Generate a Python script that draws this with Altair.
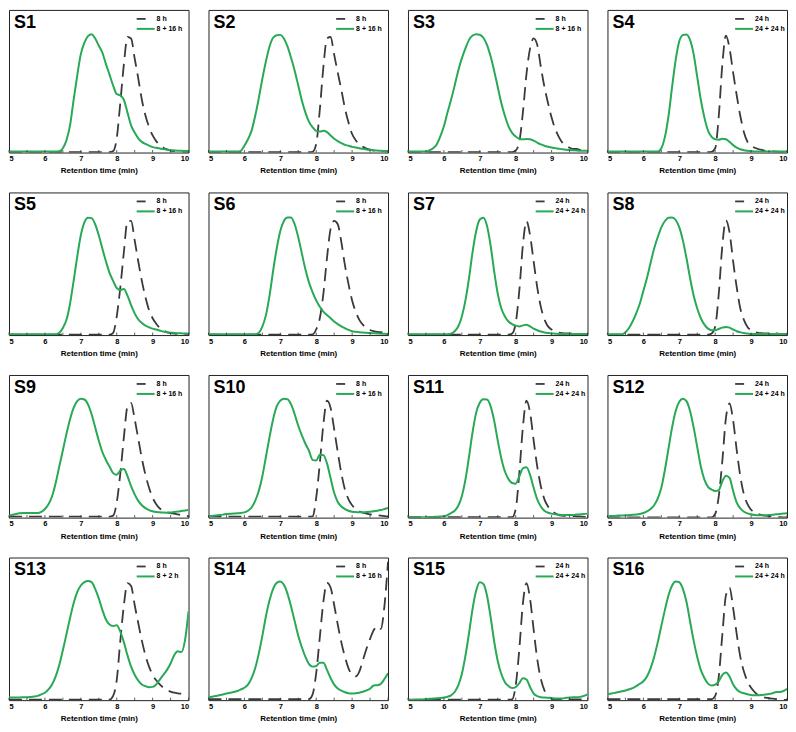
import altair as alt
import pandas as pd

# Retention time grid (min), 5.0 ... 10.0 in 0.1 steps
T = [round(5 + 0.1 * i, 1) for i in range(51)]
TICKS = [5, 5.5, 6, 6.5, 7, 7.5, 8, 8.5, 9, 9.5, 10]
XLABELS = [5, 6, 7, 8, 9, 10]

NAMES = ["S1", "S2", "S3", "S4", "S5", "S6", "S7", "S8",
         "S9", "S10", "S11", "S12", "S13", "S14", "S15", "S16"]
LEG_DASH = ["8 h", "8 h", "8 h", "24 h", "8 h", "8 h", "24 h", "24 h",
            "8 h", "8 h", "24 h", "24 h", "8 h", "8 h", "24 h", "24 h"]
LEG_GREEN = ["8 + 16 h", "8 + 16 h", "8 + 16 h", "24 + 24 h", "8 + 16 h", "8 + 16 h", "24 + 24 h", "24 + 24 h",
             "8 + 16 h", "8 + 16 h", "24 + 24 h", "24 + 24 h", "8 + 2 h", "8 + 16 h", "24 + 24 h", "24 + 24 h"]

# normalised detector signal (fraction of panel height)
S1_D = [.003, .003, .003, .003, .003, .003, .003, .003, .003, .003,
        .003, .003, .003, .003, .003, .003, .003, .003, .003, .003,
        .003, .003, .003, .003, .003, .003, .003, .003, .003, .010,
        .10, .35, .62, .81, .80, .66, .52, .37, .26, .18,
        .12, .08, .05, .034, .022, .014, .010, .008, .006, .005, .004]
S1_G = [.007, .007, .007, .007, .007, .007, .007, .007, .007, .007,
        .007, .007, .007, .007, .010, .030, .086, .19, .37, .54,
        .69, .77, .816, .83, .80, .75, .70, .62, .546, .47,
        .41, .40, .37, .28, .19, .14, .10, .075, .06, .048,
        .038, .033, .028, .024, .020, .017, .015, .013, .012, .011, .010]

S2_D = [.003, .003, .003, .003, .003, .003, .003, .003, .003, .003,
        .003, .003, .003, .003, .003, .003, .003, .003, .003, .003,
        .003, .003, .003, .003, .003, .003, .003, .003, .003, .005,
        .06, .30, .60, .80, .81, .687, .56, .44, .31, .21,
        .13, .086, .057, .040, .028, .020, .014, .012, .010, .008, .006]
S2_G = [.007, .007, .007, .007, .007, .007, .007, .007, .007, .012,
        .048, .093, .154, .256, .38, .517, .64, .744, .805, .823,
        .825, .80, .744, .664, .574, .47, .365, .28, .215, .177,
        .152, .147, .152, .143, .12, .097, .08, .066, .054, .048,
        .040, .035, .030, .026, .022, .019, .016, .014, .012, .011, .010]

S3_D = [.003, .003, .003, .003, .003, .003, .003, .003, .003, .003,
        .003, .003, .003, .003, .003, .003, .003, .003, .003, .003,
        .003, .003, .003, .003, .003, .003, .003, .003, .003, .003,
        .014, .075, .28, .55, .73, .80, .755, .60, .46, .347,
        .245, .166, .11, .07, .048, .034, .025, .025, .018, .014, .014]
S3_G = [.007, .007, .007, .007, .007, .007, .016, .030, .057, .113,
        .184, .28, .37, .47, .574, .66, .73, .79, .82, .83,
        .826, .805, .755, .675, .574, .46, .347, .256, .184, .138,
        .113, .097, .093, .095, .093, .084, .07, .057, .048, .041,
        .035, .031, .027, .023, .020, .018, .016, .014, .013, .012, .012]

S4_D = [.003, .003, .003, .003, .003, .003, .003, .003, .003, .003,
        .003, .003, .003, .003, .003, .003, .003, .003, .003, .003,
        .003, .003, .003, .003, .003, .003, .003, .003, .003, .005,
        .03, .256, .62, .82, .73, .56, .40, .256, .143, .075,
        .048, .034, .025, .018, .012, .010, .008, .006, .005, .005, .005]
S4_G = [.007, .007, .007, .007, .007, .007, .007, .007, .007, .007,
        .007, .007, .007, .007, .007, .030, .11, .256, .46, .65,
        .78, .823, .828, .79, .69, .53, .37, .245, .154, .11,
        .093, .09, .097, .093, .075, .052, .034, .023, .016, .012,
        .009, .008, .008, .008, .008, .008, .008, .008, .008, .008, .008]

S5_D = [.003, .003, .003, .003, .003, .003, .003, .003, .003, .003,
        .003, .003, .003, .003, .003, .003, .003, .003, .003, .003,
        .003, .003, .003, .003, .003, .003, .003, .003, .003, .016,
        .13, .334, .584, .80, .80, .664, .516, .38, .266, .175,
        .118, .08, .05, .034, .020, .014, .010, .008, .008, .008, .008]
S5_G = [.005, .005, .005, .005, .005, .005, .005, .005, .005, .005,
        .005, .005, .005, .005, .016, .05, .107, .22, .38, .55,
        .70, .79, .823, .82, .777, .70, .607, .516, .436, .38,
        .33, .316, .323, .277, .21, .152, .11, .084, .066, .055,
        .045, .039, .032, .025, .020, .017, .015, .013, .012, .011, .010]

S6_D = [.003, .003, .003, .003, .003, .003, .003, .003, .003, .003,
        .003, .003, .003, .003, .003, .003, .003, .003, .003, .003,
        .003, .003, .003, .003, .003, .003, .003, .003, .003, .005,
        .04, .118, .29, .54, .743, .80, .777, .652, .49, .357,
        .243, .164, .107, .073, .05, .036, .027, .022, .020, .016, .014]
S6_G = [.005, .005, .005, .005, .005, .005, .005, .005, .005, .005,
        .005, .005, .005, .005, .016, .06, .14, .277, .45, .607,
        .73, .80, .825, .825, .777, .686, .573, .46, .368, .30,
        .243, .198, .164, .14, .118, .095, .077, .061, .048, .036,
        .027, .023, .020, .018, .016, .014, .013, .011, .010, .009, .008]

S7_D = [.003, .003, .003, .003, .003, .003, .003, .003, .003, .003,
        .003, .003, .003, .003, .003, .003, .003, .003, .003, .003,
        .003, .003, .003, .003, .003, .003, .003, .003, .003, .011,
        .084, .31, .63, .80, .70, .516, .334, .198, .11, .061,
        .039, .027, .018, .014, .012, .012, .012, .010, .008, .008, .008]
S7_G = [.005, .005, .005, .005, .005, .005, .005, .005, .005, .005,
        .005, .006, .010, .027, .06, .13, .243, .40, .584, .73,
        .81, .823, .766, .63, .448, .29, .186, .13, .095, .077,
        .066, .061, .068, .073, .061, .045, .034, .025, .018, .014,
        .011, .010, .008, .008, .008, .008, .008, .008, .008, .008, .008]

S8_D = [.003, .003, .003, .003, .003, .003, .003, .003, .003, .003,
        .003, .003, .003, .003, .003, .003, .003, .003, .003, .003,
        .003, .003, .003, .003, .003, .003, .003, .003, .003, .011,
        .06, .29, .63, .805, .72, .516, .334, .186, .107, .057,
        .034, .023, .016, .013, .011, .012, .012, .012, .008, .008, .008]
S8_G = [.005, .005, .005, .005, .005, .02, .05, .095, .152, .22,
        .31, .40, .505, .607, .686, .755, .80, .823, .825, .807,
        .755, .664, .54, .40, .277, .186, .118, .073, .045, .034,
        .034, .043, .052, .057, .052, .039, .027, .020, .014, .011,
        .008, .008, .008, .008, .008, .008, .008, .008, .008, .008, .008]

S9_D = [.007, .007, .007, .007, .007, .007, .007, .007, .007, .007,
        .007, .007, .007, .007, .007, .007, .007, .007, .007, .007,
        .007, .007, .007, .007, .007, .007, .007, .007, .007, .014,
        .105, .31, .564, .78, .805, .69, .553, .415, .30, .21,
        .14, .094, .064, .046, .037, .032, .028, .023, .018, .014, .009]
S9_G = [.014, .020, .026, .030, .032, .032, .032, .032, .032, .040,
        .06, .094, .15, .243, .358, .472, .587, .69, .77, .817,
        .833, .828, .794, .725, .633, .54, .46, .404, .358, .312,
        .30, .33, .34, .29, .22, .163, .117, .087, .067, .053,
        .044, .039, .037, .035, .034, .035, .039, .042, .046, .050, .053]

S10_D = [.007, .007, .007, .007, .007, .007, .007, .007, .007, .007,
         .007, .007, .007, .007, .007, .007, .007, .007, .007, .007,
         .007, .007, .007, .007, .007, .007, .007, .007, .007, .009,
         .14, .38, .656, .82, .77, .62, .46, .31, .197, .128,
         .087, .06, .044, .034, .028, .023, .018, .016, .014, .011, .007]
S10_G = [.009, .012, .015, .018, .021, .025, .027, .028, .030, .033,
         .037, .048, .071, .117, .186, .29, .427, .564, .69, .78,
         .82, .833, .83, .794, .725, .644, .576, .518, .468, .405,
         .40, .44, .438, .38, .277, .174, .11, .078, .06, .048,
         .041, .039, .037, .037, .039, .041, .044, .048, .053, .060, .067]

S11_D = [.003, .003, .003, .003, .003, .003, .003, .003, .003, .003,
         .003, .003, .003, .003, .003, .003, .003, .003, .003, .003,
         .003, .003, .003, .003, .003, .003, .003, .003, .003, .003,
         .06, .31, .633, .82, .736, .54, .358, .22, .128, .078,
         .048, .030, .018, .014, .012, .011, .011, .009, .007, .005, .005]
S11_G = [.002, .002, .002, .002, .002, .003, .004, .005, .006, .007,
         .009, .018, .032, .048, .083, .15, .266, .427, .60, .736,
         .805, .83, .828, .782, .68, .54, .415, .323, .27, .243,
         .238, .289, .346, .353, .30, .209, .128, .078, .048, .034,
         .028, .023, .020, .018, .018, .018, .018, .021, .023, .025, .028]

S12_D = [.002, .002, .002, .002, .002, .002, .002, .002, .002, .002,
         .002, .002, .002, .002, .002, .002, .002, .002, .002, .002,
         .002, .002, .002, .002, .002, .002, .002, .002, .002, .002,
         .025, .15, .40, .70, .80, .68, .472, .29, .163, .094,
         .055, .037, .025, .018, .014, .011, .009, .006, .003, .002, .002]
S12_G = [.009, .011, .012, .014, .015, .016, .018, .020, .022, .025,
         .032, .044, .06, .087, .133, .209, .335, .484, .633, .748,
         .812, .833, .817, .748, .633, .495, .358, .266, .216, .197,
         .186, .193, .255, .294, .278, .186, .105, .064, .041, .030,
         .023, .018, .017, .016, .017, .018, .020, .023, .025, .028, .030]

S13_D = [.004, .004, .004, .004, .004, .004, .004, .004, .004, .004,
         .004, .004, .004, .004, .004, .004, .004, .004, .004, .004,
         .004, .004, .004, .004, .004, .004, .004, .004, .004, .03,
         .14, .417, .667, .82, .80, .667, .54, .417, .314, .235,
         .178, .139, .11, .087, .07, .06, .052, .048, .046, .046, .048]
S13_G = [.018, .018, .019, .019, .020, .020, .022, .025, .030, .041,
         .052, .075, .11, .166, .246, .35, .462, .576, .68, .758,
         .804, .827, .836, .827, .78, .713, .633, .565, .53, .52,
         .525, .48, .405, .314, .235, .178, .137, .11, .098, .091,
         .093, .11, .144, .178, .212, .257, .314, .342, .337, .417, .622]

S14_D = [.007, .007, .007, .007, .007, .007, .007, .007, .007, .007,
         .007, .007, .007, .007, .007, .007, .007, .007, .007, .007,
         .007, .007, .007, .007, .007, .007, .007, .007, .007, .04,
         .19, .44, .69, .822, .79, .667, .53, .405, .303, .223,
         .178, .166, .20, .28, .36, .43, .49, .52, .50, .66, .97]
S14_G = [.018, .024, .029, .034, .040, .046, .052, .057, .064, .075,
         .087, .109, .155, .223, .326, .451, .588, .70, .78, .822,
         .831, .809, .747, .656, .554, .451, .371, .303, .253, .235,
         .239, .262, .262, .212, .155, .109, .082, .066, .055, .048,
         .046, .048, .052, .059, .068, .08, .103, .105, .114, .148, .189]

S15_D = [.003, .003, .003, .003, .003, .003, .003, .003, .003, .003,
         .003, .003, .003, .003, .003, .003, .003, .003, .003, .003,
         .003, .003, .003, .003, .003, .003, .003, .003, .003, .005,
         .103, .355, .677, .82, .71, .493, .287, .149, .069, .030,
         .011, .005, .005, .005, .005, .005, .005, .005, .005, .005, .005]
S15_G = [.000, .001, .002, .003, .005, .007, .009, .011, .013, .015,
         .018, .024, .034, .057, .103, .183, .31, .47, .642, .768,
         .826, .814, .734, .585, .413, .275, .183, .126, .099, .085,
         .092, .119, .154, .145, .092, .046, .028, .021, .018, .016,
         .014, .012, .011, .012, .016, .018, .021, .021, .023, .030, .041]

S16_D = [.007, .007, .007, .007, .007, .007, .007, .007, .007, .007,
         .007, .007, .007, .007, .007, .007, .007, .007, .007, .007,
         .007, .007, .007, .007, .007, .007, .007, .007, .007, .007,
         .03, .166, .462, .736, .79, .645, .462, .303, .20, .132,
         .087, .057, .036, .025, .018, .014, .010, .007, .003, .002, .002]
S16_G = [.041, .046, .051, .057, .062, .068, .076, .084, .098, .115,
         .132, .166, .223, .303, .405, .52, .633, .736, .804, .831,
         .827, .78, .69, .553, .417, .303, .212, .155, .116, .103,
         .109, .132, .178, .194, .166, .109, .075, .057, .048, .041,
         .036, .034, .034, .036, .039, .043, .048, .057, .057, .064, .08]

DASHED = [S1_D, S2_D, S3_D, S4_D, S5_D, S6_D, S7_D, S8_D,
          S9_D, S10_D, S11_D, S12_D, S13_D, S14_D, S15_D, S16_D]
GREENS = [S1_G, S2_G, S3_G, S4_G, S5_G, S6_G, S7_G, S8_G,
          S9_G, S10_G, S11_G, S12_G, S13_G, S14_G, S15_G, S16_G]

W, H = 180, 143
GREEN = "#27a955"
DARK = "#3a3a3a"
FONT = "Liberation Sans"


def panel(name, lab_d, lab_g, dash, green):
    df_d = pd.DataFrame({"t": T, "v": dash})
    df_g = pd.DataFrame({"t": T, "v": green})
    xs = alt.X("t:Q", scale=alt.Scale(domain=[5, 10], nice=False, zero=False),
               axis=alt.Axis(values=XLABELS, format="d", title="Retention time (min)"))
    ys = alt.Y("v:Q", scale=alt.Scale(domain=[0, 1], nice=False, zero=True), axis=None)
    line_d = alt.Chart(df_d).mark_line(color=DARK, strokeWidth=1.8, strokeDash=[13, 7],
                                       interpolate="monotone", clip=True).encode(x=xs, y=ys)
    line_g = alt.Chart(df_g).mark_line(color=GREEN, strokeWidth=2,
                                       interpolate="monotone", clip=True).encode(x=xs, y=ys)
    ticks = alt.Chart(pd.DataFrame({"t": TICKS})).mark_rule(color="#333", strokeWidth=0.8).encode(
        x=xs, y=alt.value(H), y2=alt.value(H - 2.5))
    one = pd.DataFrame({"s": [name], "a": [lab_d], "b": [lab_g]})
    title = alt.Chart(one).mark_text(align="left", baseline="alphabetic", fontSize=18,
                                     fontWeight="bold", font=FONT, color="black").encode(
        x=alt.value(5), y=alt.value(18), text="s:N")
    sym_d = alt.Chart(one).mark_rule(color=DARK, strokeWidth=1.8, strokeDash=[9, 30]).encode(
        x=alt.value(128), x2=alt.value(146), y=alt.value(9))
    sym_g = alt.Chart(one).mark_rule(color=GREEN, strokeWidth=2).encode(
        x=alt.value(128), x2=alt.value(146), y=alt.value(19))
    txt_d = alt.Chart(one).mark_text(align="left", baseline="middle", fontSize=7,
                                     fontWeight="bold", font=FONT, color="black").encode(
        x=alt.value(148), y=alt.value(9), text="a:N")
    txt_g = alt.Chart(one).mark_text(align="left", baseline="middle", fontSize=7,
                                     fontWeight="bold", font=FONT, color="black").encode(
        x=alt.value(148), y=alt.value(19), text="b:N")
    return alt.layer(line_d, line_g, ticks, title, sym_d, sym_g, txt_d, txt_g).properties(
        width=W, height=H)


panels = [panel(NAMES[i], LEG_DASH[i], LEG_GREEN[i], DASHED[i], GREENS[i]) for i in range(16)]

chart = alt.concat(*panels, columns=4, spacing={"row": 40, "column": 20}, bounds="flush").properties(
    padding=0
).configure_view(
    stroke="#222", strokeWidth=1
).configure_axis(
    labelFont=FONT, labelFontSize=7.5, labelFontWeight="bold", labelColor="black", labelPadding=2,
    ticks=False, domain=False, grid=False,
    titleFont=FONT, titleFontSize=8, titleFontWeight="bold", titleColor="black", titlePadding=5
)

chart.save("out.html", embed_options={"renderer": "svg", "actions": False})
